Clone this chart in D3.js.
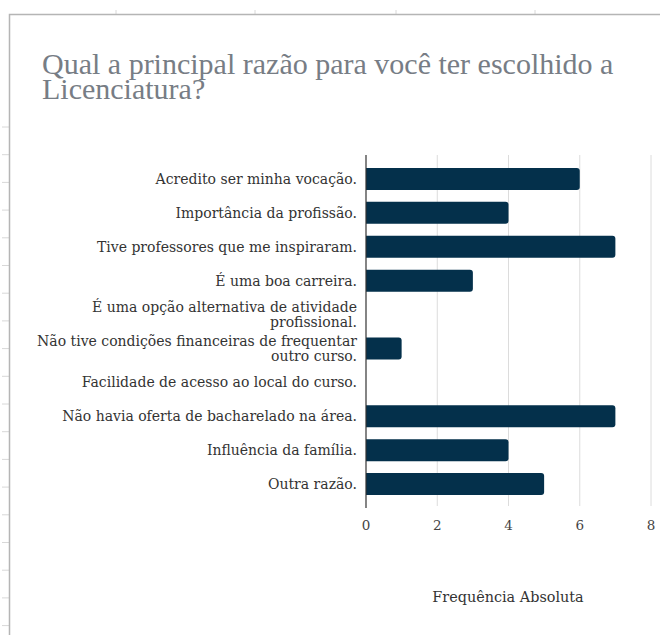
<!DOCTYPE html>
<html>
<head>
<meta charset="utf-8">
<script src="https://cdn.jsdelivr.net/npm/d3@7"></script>
<style>
  body { margin: 0; background: #fff; }
  svg { display: block; }
</style>
</head>
<body>
<div id="chart"></div>
<script>
// categories (top to bottom) and their counts
const categories = [
    "Acredito ser minha vocação.",
    "Importância da profissão.",
    "Tive professores que me inspiraram.",
    "É uma boa carreira.",
    "É uma opção alternativa de atividade|profissional.",
    "Não tive condições financeiras de frequentar|outro curso.",
    "Facilidade de acesso ao local do curso.",
    "Não havia oferta de bacharelado na área.",
    "Influência da família.",
    "Outra razão."
];
const values = [6, 4, 7, 3, 0, 1, 0, 7, 4, 5];
const xTicks = [0, 2, 4, 6, 8];
const titleLines = ["Qual a principal razão para você ter escolhido a", "Licenciatura?"];
const axisTitle = "Frequência Absoluta";

const data = categories.map((c, i) => ({label: c, value: values[i]}));

function drawChart(container){
    const width = 660, height = 635;

    const svg = d3.select(container)
        .append('svg')
            .attr('width', width)
            .attr('height', height);

    // spreadsheet frame behind the chart
    const frame = svg.append('g').classed('frame', true);
    frame.selectAll('line.row')
        .data(d3.range(127, height, 27.7))
        .enter().append('line')
            .attr('x1', 2).attr('x2', 9)
            .attr('y1', d => d).attr('y2', d => d)
            .style('stroke', '#d8d8d8');
    frame.selectAll('line.col')
        .data([116, 255, 396, 535])
        .enter().append('line')
            .attr('x1', d => d).attr('x2', d => d)
            .attr('y1', 10).attr('y2', 14)
            .style('stroke', '#d8d8d8');
    frame.append('path')
        .attr('d', `M9.5,${height} V14.5 H${width}`)
        .style('fill', 'none')
        .style('stroke', '#b5b5b5')
        .style('stroke-width', 1.5);

    // title
    svg.append('text')
        .attr('x', 42)
        .attr('y', 74)
        .style('font-family', '"Liberation Serif", serif')
        .style('font-size', '30px')
        .style('fill', '#777d85')
        .selectAll('tspan')
        .data(titleLines)
        .enter().append('tspan')
            .attr('x', 42)
            .attr('dy', (d, i) => i === 0 ? 0 : 25)
            .text(d => d);

    const x = d3.scaleLinear()
        .domain([0, 8])
        .range([366, 651]);

    const y = d3.scaleBand()
        .domain(data.map(d => d.label))
        .range([162, 501])
        .paddingInner(0.35)
        .paddingOuter(0.175);

    const top = 155, bottom = 506;
    const font = '"DejaVu Serif", serif';

    // gridlines + x ticks
    const grid = svg.append('g').classed('grid', true);
    grid.selectAll('line')
        .data(xTicks.filter(t => t > 0))
        .enter().append('line')
            .attr('x1', d => x(d)).attr('x2', d => x(d))
            .attr('y1', top).attr('y2', bottom)
            .style('stroke', '#dcdcdc')
            .style('stroke-width', 1);

    grid.selectAll('text')
        .data(xTicks)
        .enter().append('text')
            .attr('x', d => x(d))
            .attr('y', 530)
            .attr('text-anchor', 'middle')
            .style('font-family', font)
            .style('font-size', '13.5px')
            .style('fill', '#444')
            .text(d => d);

    // bars
    const bars = svg.append('g').classed('bars', true);
    bars.selectAll('path')
        .data(data.filter(d => d.value > 0))
        .enter().append('path')
            .style('fill', '#04304b')
            .attr('d', d => {
                const x0 = x(0), x1 = x(d.value), y0 = y(d.label), h = y.bandwidth(), r = 3;
                return `M${x0},${y0} H${x1 - r} Q${x1},${y0} ${x1},${y0 + r} V${y0 + h - r} Q${x1},${y0 + h} ${x1 - r},${y0 + h} H${x0} Z`;
            });

    // y axis line
    svg.append('line')
        .attr('x1', x(0)).attr('x2', x(0))
        .attr('y1', top).attr('y2', bottom + 2)
        .style('stroke', '#333')
        .style('stroke-width', 1.2);

    // category labels (some wrap to two lines)
    const lineGap = 15;
    const labels = svg.append('g').classed('labels', true);
    labels.selectAll('text')
        .data(data)
        .enter().append('text')
            .attr('text-anchor', 'end')
            .style('font-family', font)
            .style('font-size', '14px')
            .style('fill', '#333')
            .each(function(d){
                const parts = d.label.split('|');
                const t = d3.select(this);
                const c = y(d.label) + y.bandwidth() / 2;
                const first = c - (parts.length - 1) * lineGap / 2 + 5;
                parts.forEach((p, i) => {
                    t.append('tspan')
                        .attr('x', 357)
                        .attr('y', first + i * lineGap)
                        .text(p);
                });
            });

    // axis title
    svg.append('text')
        .attr('x', 508)
        .attr('y', 602)
        .attr('text-anchor', 'middle')
        .style('font-family', font)
        .style('font-size', '14.4px')
        .style('fill', '#333')
        .text(axisTitle);
}

drawChart('#chart');
</script>
</body>
</html>
